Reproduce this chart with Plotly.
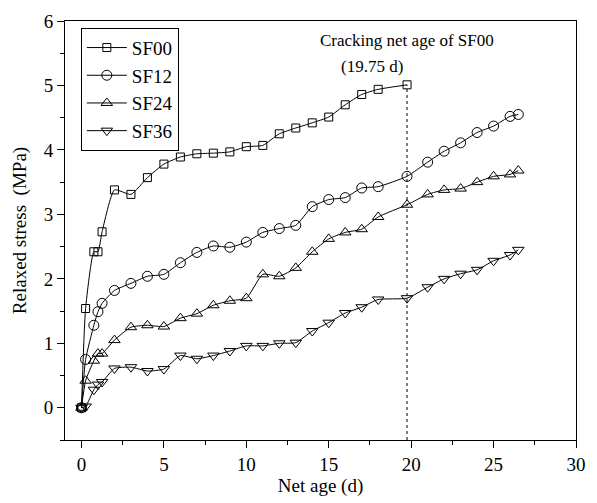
import plotly.graph_objects as go

t_sf00 = [0, 0.25, 0.75, 1, 1.25, 2, 3, 4, 5, 6, 7, 8, 9, 10, 11, 12, 13, 14, 15, 16, 17, 18, 19.75]
sf00 = [0, 1.54, 2.42, 2.42, 2.73, 3.38, 3.31, 3.57, 3.78, 3.89, 3.94, 3.95, 3.97, 4.05, 4.07, 4.25, 4.34, 4.42, 4.51, 4.70, 4.86, 4.94, 5.01]

t_all = [0, 0.25, 0.75, 1, 1.25, 2, 3, 4, 5, 6, 7, 8, 9, 10, 11, 12, 13, 14, 15, 16, 17, 18, 19.75,
         21, 22, 23, 24, 25, 26, 26.5]
sf12 = [0, 0.75, 1.28, 1.49, 1.62, 1.82, 1.93, 2.04, 2.07, 2.25, 2.41, 2.51, 2.49, 2.57, 2.72, 2.78, 2.83,
        3.12, 3.23, 3.26, 3.41, 3.43, 3.59, 3.81, 3.98, 4.11, 4.27, 4.37, 4.52, 4.55]
sf24 = [0, 0.42, 0.73, 0.84, 0.84, 1.05, 1.25, 1.28, 1.26, 1.39, 1.46, 1.59, 1.66, 1.70, 2.07, 2.04, 2.17,
        2.42, 2.62, 2.72, 2.77, 2.96, 3.15, 3.31, 3.38, 3.40, 3.50, 3.59, 3.62, 3.68]
sf36 = [0, 0.02, 0.28, 0.36, 0.40, 0.61, 0.63, 0.57, 0.60, 0.81, 0.76, 0.81, 0.88, 0.96, 0.96, 1.00, 1.01,
        1.19, 1.32, 1.47, 1.56, 1.68, 1.70, 1.87, 2.00, 2.08, 2.14, 2.28, 2.37, 2.45]

crack_age = 19.75
crack_stress = 5.01

FONT = "Liberation Serif, Times New Roman, serif"

fig = go.Figure()
series = [
    ("SF00", t_sf00, sf00, "square-open", 8),
    ("SF12", t_all, sf12, "circle-open", 10),
    ("SF24", t_all, sf24, "triangle-up-open", 10),
    ("SF36", t_all, sf36, "triangle-down-open", 10),
]
for name, xs, ys, sym, sz in series:
    fig.add_trace(go.Scatter(
        x=xs, y=ys, name=name, mode="lines+markers",
        line=dict(color="black", width=1, shape="spline", smoothing=0.5),
        marker=dict(symbol=sym, size=sz, color="black", line=dict(width=1, color="black")),
    ))

fig.add_shape(type="line", x0=crack_age, x1=crack_age, y0=-0.5, y1=crack_stress,
              xref="x", yref="y", line=dict(color="black", width=1, dash="dot"))

fig.add_annotation(x=crack_age, y=5.70, xref="x", yref="y", text="Cracking net age of SF00",
                   showarrow=False, font=dict(family=FONT, size=17, color="black"), xanchor="center")
fig.add_annotation(x=19.65, y=5.30, xref="x", yref="y", text="(19.75 d)",
                   showarrow=False, font=dict(family=FONT, size=17, color="black"), xanchor="right")

axis_common = dict(
    showgrid=False, zeroline=False, showline=True, linecolor="black", linewidth=1, mirror=True,
    ticks="outside", ticklen=7, tickwidth=1, tickcolor="black",
    tickfont=dict(family=FONT, size=19, color="black"),
)
fig.update_xaxes(range=[-1, 30], tick0=0, dtick=5,
                 minor=dict(ticks="outside", ticklen=4, dtick=2.5, tick0=0, tickcolor="black"),
                 title=dict(text="Net age (d)", font=dict(family=FONT, size=19, color="black"), standoff=4),
                 **axis_common)
fig.update_yaxes(range=[-0.5, 6], tick0=0, dtick=1,
                 minor=dict(ticks="outside", ticklen=4, dtick=0.5, tick0=0, tickcolor="black"),
                 title=dict(text="Relaxed stress\u00a0\u00a0(MPa)", font=dict(family=FONT, size=19, color="black"), standoff=12),
                 **axis_common)

fig.update_layout(
    width=597, height=503,
    margin=dict(l=65, r=11, t=16, b=62),
    paper_bgcolor="white", plot_bgcolor="white",
    font=dict(family=FONT, color="black"),
    legend=dict(x=0.031, y=0.984, xanchor="left", yanchor="top",
                bordercolor="black", borderwidth=1, bgcolor="white",
                font=dict(family=FONT, size=19, color="black"),
                itemwidth=40),
    showlegend=True,
)

fig.write_html("out.html")
